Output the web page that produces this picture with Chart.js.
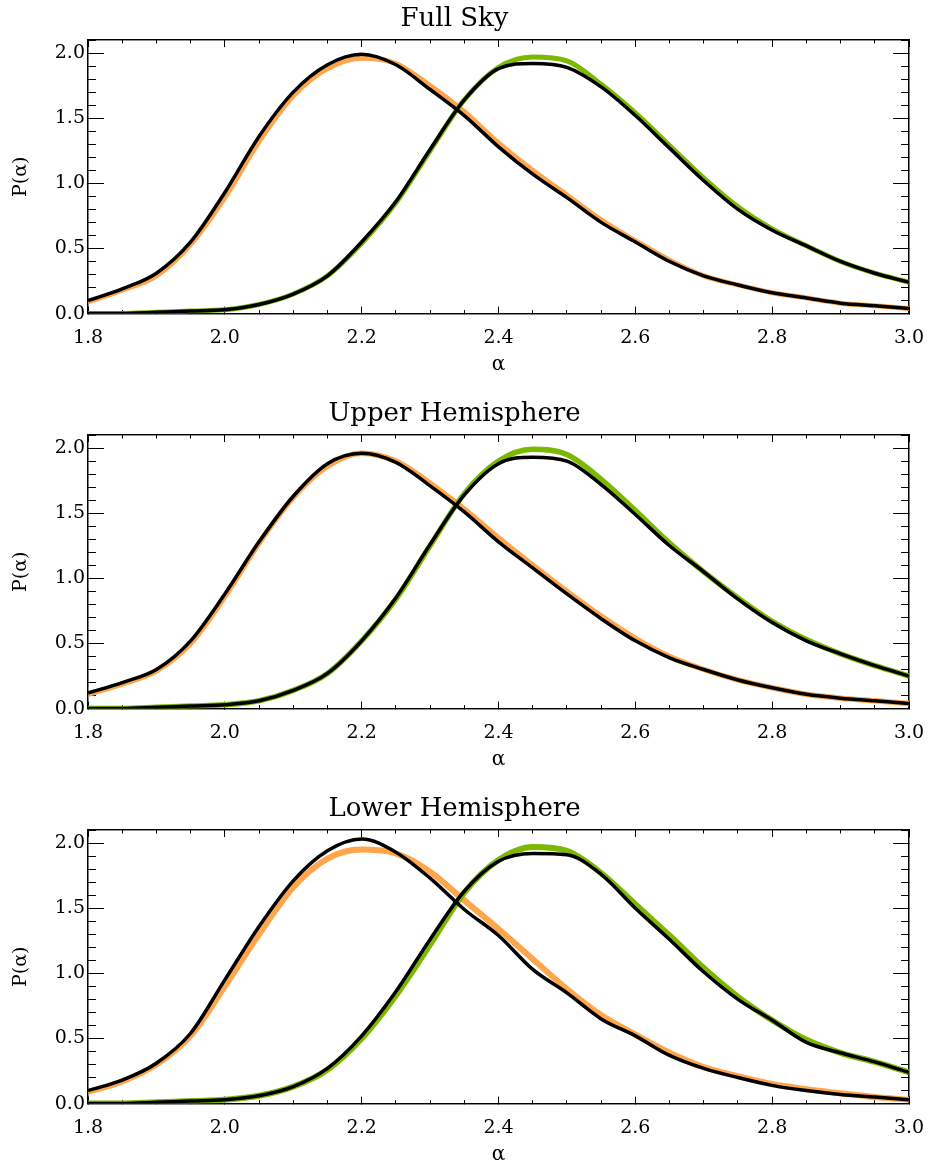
<!DOCTYPE html>
<html>
<head>
<meta charset="utf-8">
<title>P(alpha) distributions</title>
<script src="https://cdn.jsdelivr.net/npm/chart.js@4.4.1/dist/chart.umd.min.js"></script>
<style>
  html, body { margin: 0; padding: 0; background: #fff; overflow: hidden; }
  #wrap { position: relative; width: 928px; height: 1166px; overflow: hidden; }
  #wrap canvas { position: absolute; left: 0; }
</style>
</head>
<body>
<div id="wrap">
  <canvas id="fullSky" width="928" height="395" style="top:0px"></canvas>
  <canvas id="upperHemi" width="928" height="395" style="top:395px"></canvas>
  <canvas id="lowerHemi" width="928" height="395" style="top:790px"></canvas>
</div>
<script>
// alpha grid shared by every curve
const alpha = [1.80, 1.85, 1.90, 1.95, 2.00, 2.05, 2.10, 2.15, 2.20, 2.25, 2.30, 2.35, 2.40,
               2.45, 2.50, 2.55, 2.60, 2.65, 2.70, 2.75, 2.80, 2.85, 2.90, 2.95, 3.00];

// Full Sky
const fullOrange = [0.09, 0.18, 0.29, 0.53, 0.89, 1.32, 1.67, 1.88, 1.96, 1.92, 1.75, 1.55, 1.31,
                    1.10, 0.91, 0.72, 0.56, 0.41, 0.29, 0.22, 0.16, 0.12, 0.08, 0.06, 0.04];
const fullBlackA = [0.10, 0.19, 0.31, 0.55, 0.93, 1.36, 1.70, 1.91, 1.99, 1.91, 1.72, 1.52, 1.28,
                    1.07, 0.89, 0.70, 0.55, 0.40, 0.29, 0.22, 0.16, 0.12, 0.08, 0.06, 0.04];
const fullGreen  = [0.00, 0.00, 0.01, 0.02, 0.03, 0.07, 0.15, 0.29, 0.54, 0.85, 1.25, 1.64, 1.89,
                    1.97, 1.94, 1.76, 1.54, 1.29, 1.04, 0.82, 0.65, 0.52, 0.40, 0.31, 0.24];
const fullBlackB = [0.00, 0.00, 0.01, 0.02, 0.03, 0.07, 0.15, 0.29, 0.55, 0.86, 1.26, 1.64, 1.88,
                    1.92, 1.89, 1.74, 1.52, 1.27, 1.02, 0.80, 0.64, 0.52, 0.40, 0.31, 0.24];

// Upper Hemisphere
const upperOrange = [0.11, 0.19, 0.29, 0.50, 0.86, 1.27, 1.62, 1.86, 1.96, 1.90, 1.73, 1.53, 1.31,
                     1.10, 0.90, 0.71, 0.54, 0.40, 0.30, 0.22, 0.16, 0.11, 0.08, 0.06, 0.04];
const upperBlackA = [0.12, 0.20, 0.30, 0.52, 0.88, 1.28, 1.63, 1.88, 1.96, 1.89, 1.71, 1.51, 1.28,
                     1.08, 0.88, 0.69, 0.52, 0.39, 0.30, 0.22, 0.16, 0.11, 0.08, 0.06, 0.04];
const upperGreen  = [0.00, 0.00, 0.01, 0.02, 0.03, 0.06, 0.14, 0.27, 0.52, 0.84, 1.25, 1.65, 1.90,
                     1.99, 1.95, 1.76, 1.52, 1.27, 1.05, 0.85, 0.67, 0.53, 0.42, 0.33, 0.25];
const upperBlackB = [0.00, 0.00, 0.01, 0.02, 0.03, 0.06, 0.14, 0.27, 0.52, 0.85, 1.26, 1.64, 1.88,
                     1.93, 1.90, 1.72, 1.49, 1.25, 1.05, 0.84, 0.66, 0.52, 0.42, 0.33, 0.25];

// Lower Hemisphere
const lowerOrange = [0.09, 0.17, 0.30, 0.52, 0.90, 1.30, 1.66, 1.88, 1.95, 1.92, 1.78, 1.56, 1.34,
                     1.11, 0.88, 0.68, 0.53, 0.39, 0.28, 0.21, 0.15, 0.11, 0.08, 0.05, 0.03];
const lowerBlackA = [0.10, 0.18, 0.31, 0.54, 0.95, 1.36, 1.71, 1.94, 2.03, 1.93, 1.73, 1.49, 1.29,
                     1.03, 0.85, 0.65, 0.52, 0.37, 0.27, 0.20, 0.14, 0.10, 0.07, 0.05, 0.03];
const lowerGreen  = [0.00, 0.00, 0.01, 0.02, 0.03, 0.06, 0.13, 0.26, 0.50, 0.83, 1.22, 1.62, 1.87,
                     1.97, 1.94, 1.77, 1.53, 1.29, 1.04, 0.82, 0.64, 0.49, 0.39, 0.32, 0.24];
const lowerBlackB = [0.00, 0.00, 0.01, 0.02, 0.03, 0.06, 0.13, 0.27, 0.52, 0.86, 1.26, 1.63, 1.86,
                     1.92, 1.91, 1.76, 1.50, 1.26, 1.01, 0.80, 0.64, 0.47, 0.39, 0.32, 0.24];

const FONT = "'DejaVu Serif', serif";

function toPoints(values) {
    return alpha.map((a, i) => ({ x: a, y: values[i] }));
}

function curve(values, color, width, order) {
    return {
        data: toPoints(values),
        borderColor: color,
        borderWidth: width,
        pointRadius: 0,
        cubicInterpolationMode: 'monotone',
        order: order
    };
}

// one axis; IDL style ticks point inward (negative tickLength)
function axis(position, opts) {
    const horizontal = position === 'top' || position === 'bottom';
    const base = {
        type: 'linear',
        axis: horizontal ? 'x' : 'y',
        position: position,
        weight: opts.labels ? 1 : 0,
        min: horizontal ? 1.8 : 0,
        max: horizontal ? 3.0 : 2.1,
        grid: {
            drawOnChartArea: false,
            tickLength: -opts.len,
            tickColor: '#000',
            tickWidth: 1
        },
        border: { color: '#000', width: 1.3 },
        ticks: {
            display: !!opts.labels,
            stepSize: opts.step,
            includeBounds: false,
            maxTicksLimit: 100,
            autoSkip: false,
            maxRotation: 0,
            color: '#000',
            font: { family: FONT, size: 19 },
            padding: opts.pad || 0,
            callback: v => v.toFixed(1)
        },
        afterFit: scale => {
            if (horizontal) {
                scale.height = opts.size || 0;
                // keep the label padding from pushing the plot edges in
                scale.paddingLeft = 0;
                scale.paddingRight = 0;
            } else {
                scale.width = opts.size || 0;
            }
        }
    };
    if (opts.title) {
        base.title = {
            display: true,
            text: opts.title,
            color: '#000',
            font: { family: FONT, size: horizontal ? 20 : 19 },
            padding: opts.titlePad
        };
    }
    return base;
}

function buildScales() {
    return {
        x: axis('bottom', { labels: true, step: 0.2, len: 7, pad: 20, size: 81.4,
                            title: 'α', titlePad: { top: 0, bottom: 18 } }),
        xMinor: axis('bottom', { step: 0.05, len: 3.5 }),
        xTop: axis('top', { step: 0.2, len: 7 }),
        xTopMinor: axis('top', { step: 0.05, len: 3.5 }),
        y: axis('left', { labels: true, step: 0.5, len: 16, pad: 19, size: 88,
                          title: 'P(α)', titlePad: { top: 10, bottom: 0 } }),
        yMinor: axis('left', { step: 0.1, len: 8 }),
        yRight: axis('right', { step: 0.5, len: 16 }),
        yRightMinor: axis('right', { step: 0.1, len: 8 })
    };
}

function renderPanel(canvasId, title, orange, blackA, green, blackB, bandWidth) {
    const ctx = document.getElementById(canvasId);
    return new Chart(ctx, {
        type: 'line',
        data: {
            datasets: [
                curve(orange, '#ffa54c', bandWidth, 4),
                curve(green, '#7db800', bandWidth, 3),
                curve(blackA, '#000000', 3.5, 1),
                curve(blackB, '#000000', 3.5, 0)
            ]
        },
        options: {
            responsive: false,
            animation: false,
            layout: { padding: { left: 0, right: 19, top: 0, bottom: 0 } },
            plugins: {
                legend: { display: false },
                tooltip: { enabled: false },
                title: {
                    display: true,
                    text: title,
                    color: '#000',
                    font: { family: FONT, size: 26, weight: 'normal' },
                    padding: { top: 4, bottom: 4.8 }
                }
            },
            scales: buildScales()
        }
    });
}

renderPanel('fullSky', 'Full Sky', fullOrange, fullBlackA, fullGreen, fullBlackB, 5);
renderPanel('upperHemi', 'Upper Hemisphere', upperOrange, upperBlackA, upperGreen, upperBlackB, 5.5);
renderPanel('lowerHemi', 'Lower Hemisphere', lowerOrange, lowerBlackA, lowerGreen, lowerBlackB, 6);
</script>
</body>
</html>
